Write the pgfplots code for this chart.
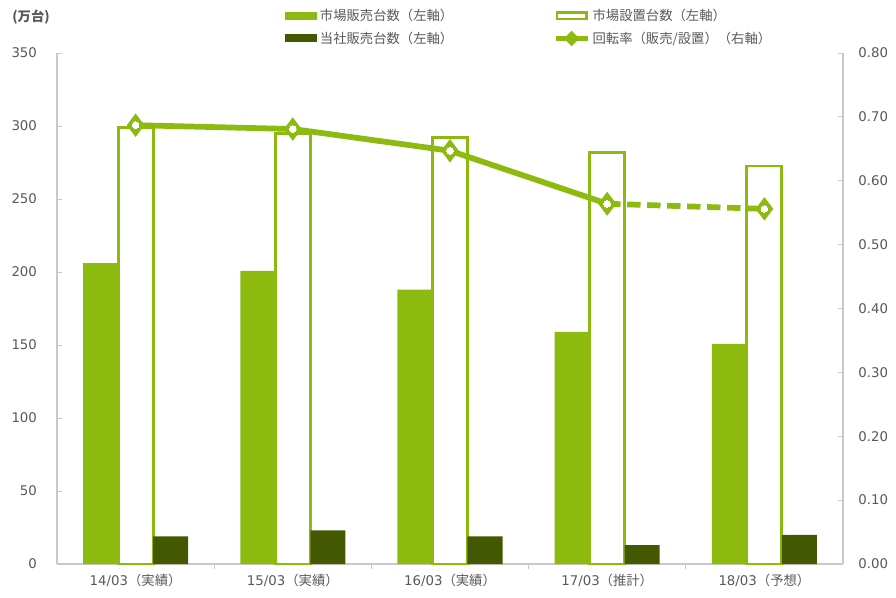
\documentclass[border=0pt]{standalone}
\usepackage{pgfplots}
\pgfplotsset{compat=1.18}
\usepackage{fontspec}
\setmainfont{DejaVu Sans}
\newfontfamily\cjk{Noto Sans CJK JP}
\definecolor{lg}{HTML}{8CBA0E}
\definecolor{dg}{HTML}{435800}
\definecolor{axgray}{HTML}{C8C8C8}
\definecolor{txt}{HTML}{595959}
\begin{document}
\begin{tikzpicture}
\path[use as bounding box] (-42.75pt,-24.75pt) rectangle (629.25pt,423pt);
\begin{axis}[
  scale only axis, width=589.5pt, height=383.25pt,
  xmin=-0.5, xmax=4.5, ymin=0, ymax=350,
  ytick={0,50,...,350},
  axis x line*=bottom, axis y line*=left,
  axis line style={axgray, line width=0.8pt},
  xtick={0,1,2,3,4},
  xticklabels={{14/03\cjk（実績）},{15/03\cjk（実績）},{16/03\cjk（実績）},{17/03\cjk（推計）},{18/03\cjk（予想）}},
  major x tick style={draw=none},
  minor xtick={0.5,1.5,2.5,3.5},
  minor x tick style={axgray, line width=0.6pt},
  minor tick length=4pt,
  y tick style={axgray, line width=0.6pt},
  major tick length=4pt,
  tick label style={font=\fontsize{10}{12}\selectfont, text=txt},
  /pgf/number format/assume math mode=true,
  yticklabel style={xshift=-11.5pt},
  xticklabel style={yshift=0pt},
  ybar=0pt, bar width=26.25pt,
  legend columns=2,
  legend style={at={(rel axis cs:0.285,1.097)}, anchor=north west, draw=none, fill=none,
    font=\cjk\fontsize{10}{12}\selectfont, text=txt,
    /tikz/every even column/.append style={column sep=73pt},
    row sep=3pt},
  legend cell align=left,
]
\addplot[fill=lg, draw=none,
  legend image code/.code={\fill[lg] (0pt,-3pt) rectangle (24pt,3pt);}]
  coordinates {(0,206) (1,200.7) (2,188) (3,159) (4,150.7)};
\addlegendentry{市場販売台数（左軸）}
\addplot[fill=white, draw=lg, line width=2.2pt,
  legend image code/.code={\draw[lg, fill=white, line width=2pt] (1pt,-2.5pt) rectangle (23pt,2.5pt);}]
  coordinates {(0,299) (1,295) (2,292) (3,282) (4,272.6)};
\addlegendentry{市場設置台数（左軸）}
\addplot[fill=dg, draw=none,
  legend image code/.code={\fill[dg] (0pt,-3pt) rectangle (24pt,3pt);}]
  coordinates {(0,19) (1,23) (2,19) (3,13) (4,20)};
\addlegendentry{当社販売台数（左軸）}
\addlegendimage{legend image code/.code={
  \draw[lg, line width=3.5pt] (0pt,0pt) -- (24pt,0pt);
  \fill[lg] (12pt,0pt) ++(-5.5pt,0pt) -- ++(5.5pt,5.5pt) -- ++(5.5pt,-5.5pt) -- ++(-5.5pt,-5.5pt) -- cycle;}}
\addlegendentry{回転率（販売/設置）（右軸）}
\end{axis}
\node[font=\cjk\bfseries\fontsize{10}{12}\selectfont, text=txt, anchor=west] at (-37pt,410pt) {(万台)};
\begin{axis}[
  scale only axis, width=589.5pt, height=383.25pt,
  xmin=-0.5, xmax=4.5, ymin=0, ymax=0.8,
  ytick={0,0.1,...,0.8},
  axis x line=none, axis y line*=right,
  axis line style={axgray, line width=0.8pt},
  y tick style={axgray, line width=0.6pt},
  major tick length=4pt,
  tick label style={font=\fontsize{10}{12}\selectfont, text=txt},
  /pgf/number format/assume math mode=true,
  yticklabel style={/pgf/number format/.cd, fixed, fixed zerofill, precision=2, /tikz/.cd, xshift=8pt},
]
\addplot[color=lg, line width=4.3pt, mark=diamond*, mark size=8pt, mark options={solid, fill=lg, draw=lg, line width=1pt}]
  coordinates {(0,0.687) (1,0.681) (2,0.647) (3,0.564)};
\addplot[color=lg, line width=4.3pt, dash pattern=on 10pt off 5pt, mark=diamond*, mark size=8pt, mark options={solid, fill=lg, draw=lg, line width=1pt}]
  coordinates {(3,0.564) (4,0.556)};
\addplot[color=white, only marks, mark=*, mark size=2.5pt, mark options={fill=white, draw=white, line width=0pt}]
  coordinates {(0,0.687) (1,0.681) (2,0.647) (3,0.564) (4,0.556)};
\end{axis}
\end{tikzpicture}
\end{document}
